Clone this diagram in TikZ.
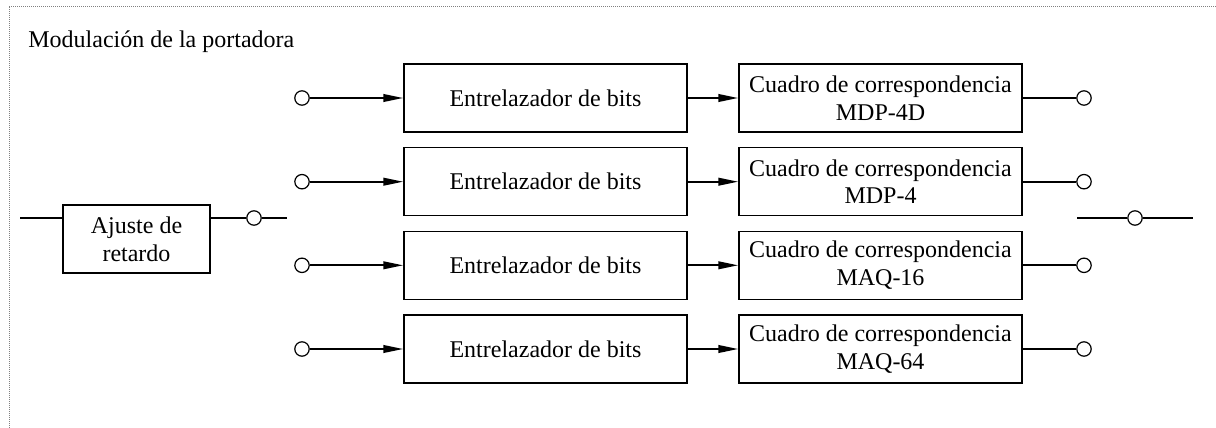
\documentclass[tikz,border=0pt]{standalone}
\usepackage{fontspec}
\setmainfont{Liberation Serif}
\usetikzlibrary{arrows.meta}
\begin{document}
\begin{tikzpicture}[x=0.5pt,y=-0.5pt,
  every node/.style={font=\fontsize{12}{13.8}\selectfont},
  blockbox/.style={draw,line width=0.7pt,minimum width=141.5pt,minimum height=34pt,inner sep=0pt,align=center},
  smallbox/.style={draw,line width=0.7pt,minimum width=73.5pt,minimum height=34pt,inner sep=0pt,align=center},
  term/.style={draw,circle,line width=0.6pt,minimum size=7.2pt,inner sep=0pt,fill=white},
  wire/.style={line width=1pt},
  arrowwire/.style={line width=1pt,-{Triangle[length=10pt,width=3.8pt]}},
  frame/.style={gray,line width=0.5pt,dash pattern=on 0.5pt off 0.5pt}
]
\useasboundingbox (0,0) rectangle (1216,428);
\draw[frame] (9,428) -- (9,6) -- (1216,6);
\node[anchor=base west,inner sep=0pt] (title) at (28,47) {Modulación de la portadora};

% delay block
\coordinate (ain) at (20,218);
\node[smallbox] (aj) at (136.5,239) {Ajuste de\\retardo};
\node[term] (ajc) at (254,218) {};
\coordinate (aout) at (287,218);
\draw[wire] (ain) -- (aj.west |- ain);
\draw[wire] (aj.east |- ain) -- (ajc);
\draw[wire] (ajc) -- (aout);

% right switch
\coordinate (rin) at (1077,218);
\node[term] (rc) at (1135,218) {};
\coordinate (rout) at (1193,218);
\draw[wire] (rin) -- (rc);
\draw[wire] (rc) -- (rout);

% rows
\foreach \i/\y/\lab in {1/98/MDP-4D,2/181.7/MDP-4,3/265.3/MAQ-16,4/349/MAQ-64}{
  \node[term] (in\i) at (302,\y) {};
  \node[blockbox] (e\i) at (545.5,\y) {Entrelazador de bits};
  \node[blockbox] (c\i) at (880.5,\y) {Cuadro de correspondencia\\\lab};
  \node[term] (out\i) at (1084,\y) {};
  \draw[arrowwire] (in\i) -- (e\i);
  \draw[arrowwire] (e\i) -- (c\i);
  \draw[wire] (c\i) -- (out\i);
}
\end{tikzpicture}
\end{document}
